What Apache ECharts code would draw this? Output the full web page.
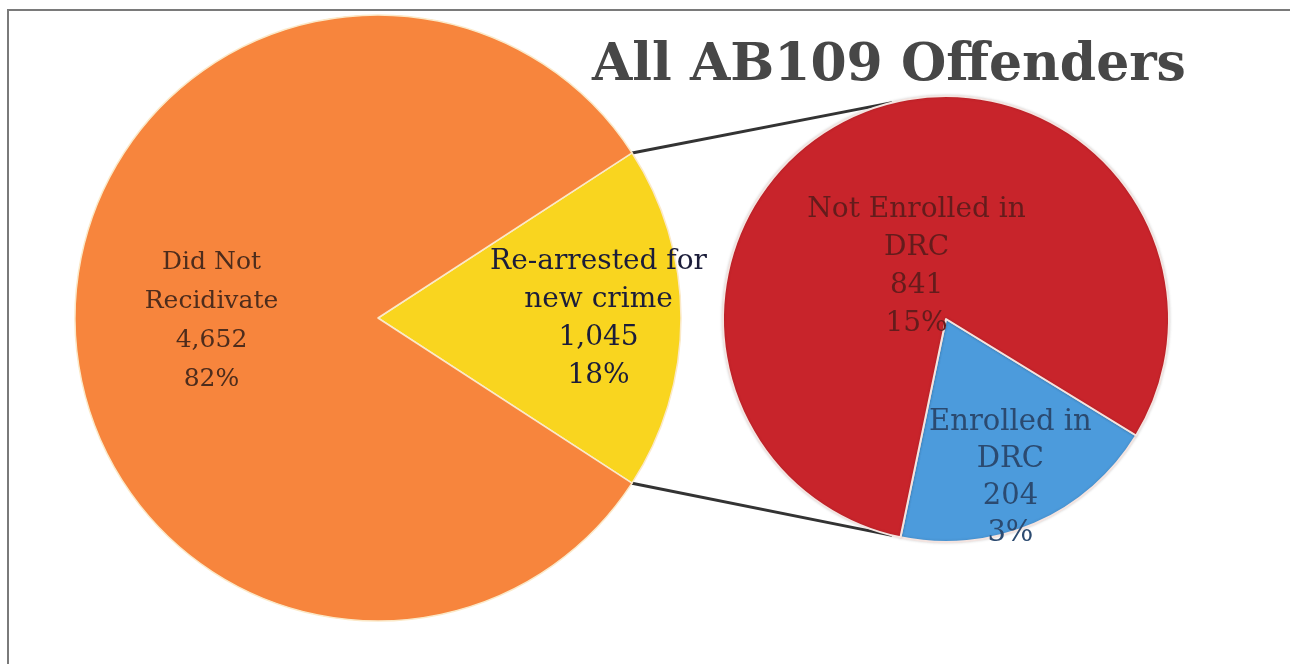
<!DOCTYPE html>
<html>
<head>
    <meta charset="UTF-8">
    <title>All AB109 Offenders</title>
    <script src="https://cdn.jsdelivr.net/npm/echarts@6/dist/echarts.min.js"></script>
    <style>
        body { margin: 0; background: #fff; }
        #chart { width: 1290px; height: 664px; }
    </style>
</head>
<body>
<div id="chart"></div>
<script>
    // data
    var bigNames = ['Re-arrested for\nnew crime', 'Did Not\nRecidivate'];
    var bigValues = [1045, 4652];
    var bigPct = ['18%', '82%'];

    var smallNames = ['Enrolled in\nDRC', 'Not Enrolled in\nDRC'];
    var smallValues = [204, 841];
    var smallPct = ['3%', '15%'];

    // layout
    var bigCenter = [378, 318], bigR = 303, bigStart = 33;
    var smallCenter = [946, 319], smallR = 223, smallStart = -31.5;

    var bigColors = ['#F9D51F', '#F7853D'];
    var smallColors = ['#4C9BDC', '#C8242B'];

    function fmt(n) {
        return String(n).replace(/\B(?=(\d{3})+(?!\d))/g, ',');
    }

    function makeData(names, values, colors, pct, labelStyles) {
        return names.map(function (n, i) {
            return {
                name: n,
                value: values[i],
                pct: pct[i],
                itemStyle: { color: colors[i] },
                label: labelStyles[i]
            };
        });
    }

    var bigData = makeData(bigNames, bigValues, bigColors, bigPct, [
        { color: '#1b1d3a', fontSize: 28, lineHeight: 38 },
        { color: '#4d2c1c', fontSize: 25, lineHeight: 39 }
    ]);
    var smallData = makeData(smallNames, smallValues, smallColors, smallPct, [
        { color: '#2b4a70', fontSize: 29, lineHeight: 37 },
        { color: '#641c1c', fontSize: 28, lineHeight: 38 }
    ]);

    function labelText(p) {
        return p.name + '\n' + fmt(p.value) + '\n' + p.data.pct;
    }

    // connector lines: from the edges of the yellow slice to the small pie
    var rad = Math.PI / 180;
    var ySpan = 360 * bigValues[0] / (bigValues[0] + bigValues[1]);
    function onCircle(c, r, deg) {
        return [c[0] + r * Math.cos(deg * rad), c[1] - r * Math.sin(deg * rad)];
    }
    var p1 = onCircle(bigCenter, bigR, bigStart);
    var p2 = onCircle(bigCenter, bigR, bigStart - ySpan);
    var q1 = onCircle(smallCenter, smallR, 104);
    var q2 = onCircle(smallCenter, smallR, -104);

    var bigOffsets = [[66, 1], [-12, 3]];
    var smallOffsets = [[19, 54], [16, 53]];

    var option = {
        animation: false,
        backgroundColor: '#fff',
        title: {
            text: 'All AB109 Offenders',
            left: 592,
            top: 40,
            padding: 0,
            textStyle: {
                fontFamily: 'DejaVu Serif',
                fontWeight: 'bold',
                fontSize: 52,
                color: '#474747'
            }
        },
        graphic: [
            {
                type: 'rect',
                shape: { x: 8, y: 10, width: 1400, height: 800 },
                style: { fill: 'none', stroke: '#7a7a7a', lineWidth: 2 },
                z: 0
            },
            {
                type: 'line',
                shape: { x1: p1[0], y1: p1[1], x2: q1[0], y2: q1[1] },
                style: { stroke: '#333', lineWidth: 3 },
                z: 1
            },
            {
                type: 'line',
                shape: { x1: p2[0], y1: p2[1], x2: q2[0], y2: q2[1] },
                style: { stroke: '#333', lineWidth: 3 },
                z: 1
            }
        ],
        series: [
            {
                type: 'pie',
                center: bigCenter,
                radius: bigR,
                startAngle: bigStart,
                clockwise: true,
                avoidLabelOverlap: false,
                itemStyle: { borderColor: '#fbe9c8', borderWidth: 1.5 },
                label: {
                    show: true,
                    position: 'inside',
                    fontFamily: 'DejaVu Serif',
                    align: 'center',
                    formatter: labelText
                },
                labelLine: { show: false },
                labelLayout: function (p) {
                    var o = bigOffsets[p.dataIndex];
                    return { dx: o[0], dy: o[1] };
                },
                emphasis: { disabled: true },
                data: bigData
            },
            {
                type: 'pie',
                center: smallCenter,
                radius: smallR,
                startAngle: smallStart,
                clockwise: true,
                avoidLabelOverlap: false,
                itemStyle: {
                    borderColor: '#f4e4e0', borderWidth: 2,
                    shadowColor: 'rgba(0,0,0,0.15)', shadowBlur: 3
                },
                label: {
                    show: true,
                    position: 'inside',
                    fontFamily: 'DejaVu Serif',
                    align: 'center',
                    formatter: labelText
                },
                labelLine: { show: false },
                labelLayout: function (p) {
                    var o = smallOffsets[p.dataIndex];
                    return { dx: o[0], dy: o[1] };
                },
                emphasis: { disabled: true },
                data: smallData
            }
        ]
    };

    var myChart = echarts.init(document.getElementById('chart'));
    myChart.setOption(option);
</script>
</body>
</html>
